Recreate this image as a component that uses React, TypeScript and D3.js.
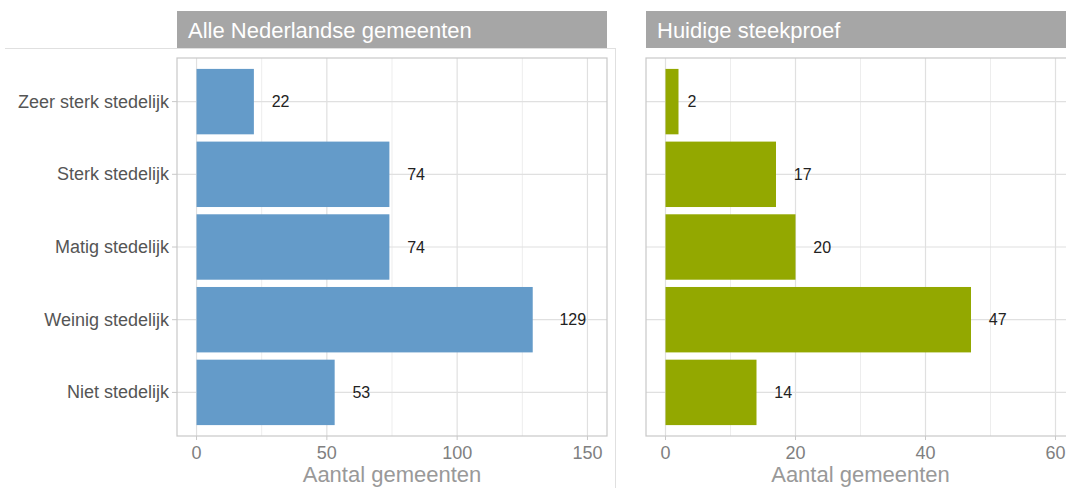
import React from "react";
import * as d3 from "d3";

const categories = ["Zeer sterk stedelijk", "Sterk stedelijk", "Matig stedelijk", "Weinig stedelijk", "Niet stedelijk"];
const allValues = [22, 74, 74, 129, 53];
const sampleValues = [2, 17, 20, 47, 14];
const leftTicks = [0, 50, 100, 150];
const leftMinor = [25, 75, 125];
const rightTicks = [0, 20, 40, 60];
const rightMinor = [10, 30, 50];
const panelTitles = ["Alle Nederlandse gemeenten", "Huidige steekproef"];
const axisTitle = "Aantal gemeenten";

const FONT = "'Liberation Sans', Arial, sans-serif";
const W = 1066, H = 488;
const PT = 58, PB = 436;
const LABEL_SIZE = 16;

type PanelProps = {
  title: string;
  values: number[];
  ticks: number[];
  minor: number[];
  domain: [number, number];
  x0: number;
  x1: number;
  color: string;
  showY: boolean;
};

function Panel({ title, values, ticks, minor, domain, x0, x1, color, showY }: PanelProps) {
  const x = d3.scaleLinear().domain(domain).range([x0, x1]);
  const y = d3.scaleBand<string>().domain(categories).range([PT, PB]).paddingInner(0.1).paddingOuter(0.15);
  const bw = y.bandwidth();
  const right = Math.min(x1, W);
  return (
    <g>
      <rect x={x0} y={11} width={right - x0} height={37} fill="#A6A6A6" />
      <text x={x0 + 11} y={38} fill="#ffffff" fontSize={22} fontFamily={FONT}>{title}</text>
      <rect x={x0} y={PT} width={x1 - x0} height={PB - PT} fill="#ffffff" />
      {minor.map((m) => (
        <line key={"mi" + m} x1={x(m)} x2={x(m)} y1={PT} y2={PB} stroke="#EDEDED" strokeWidth={1} />
      ))}
      {ticks.map((t) => (
        <line key={"ma" + t} x1={x(t)} x2={x(t)} y1={PT} y2={PB} stroke="#E0E0E0" strokeWidth={1.2} />
      ))}
      {categories.map((c) => (
        <line key={"hg" + c} x1={x0} x2={x1} y1={y(c)! + bw / 2} y2={y(c)! + bw / 2} stroke="#E0E0E0" strokeWidth={1.2} />
      ))}
      {categories.map((c, i) => (
        <rect key={"b" + c} x={x(0)} y={y(c)!} width={x(values[i]) - x(0)} height={bw} fill={color} />
      ))}
      {categories.map((c, i) => {
        const label = String(values[i]);
        const textW = label.length * 0.556 * LABEL_SIZE;
        return (
          <text key={"v" + c} x={x(values[i]) + textW} y={y(c)! + bw / 2} textAnchor="start" dominantBaseline="central"
            fontSize={LABEL_SIZE} fill="#222222" fontFamily={FONT}>{label}</text>
        );
      })}
      <rect x={x0} y={PT} width={x1 - x0} height={PB - PT} fill="none" stroke="#C8C8C8" strokeWidth={1.2} />
      {ticks.map((t) => (
        <g key={"xt" + t}>
          <line x1={x(t)} x2={x(t)} y1={PB} y2={PB + 4} stroke="#C8C8C8" />
          <text x={x(t)} y={459} textAnchor="middle" fontSize={18} fill="#808080" fontFamily={FONT}>{t}</text>
        </g>
      ))}
      <text x={(x0 + x1) / 2} y={482} textAnchor="middle" fontSize={22} fill="#999999" fontFamily={FONT}>{axisTitle}</text>
      {showY && categories.map((c) => (
        <g key={"yt" + c}>
          <line x1={x0 - 5} x2={x0} y1={y(c)! + bw / 2} y2={y(c)! + bw / 2} stroke="#C8C8C8" />
          <text x={x0 - 8} y={y(c)! + bw / 2} textAnchor="end" dominantBaseline="central" fontSize={18} fill="#555555" fontFamily={FONT}>{c}</text>
        </g>
      ))}
    </g>
  );
}

export default function App() {
  return (
    <svg width={W} height={H} style={{ position: "absolute", left: 0, top: 0, display: "block" }}>
      <rect x={0} y={0} width={W} height={H} fill="#ffffff" />
      <line x1={5} x2={615} y1={48.5} y2={48.5} stroke="#E0E0E0" />
      <line x1={615.5} x2={615.5} y1={48} y2={H} stroke="#E0E0E0" />
      <Panel title={panelTitles[0]} values={allValues} ticks={leftTicks} minor={leftMinor} domain={[-7.5, 157.5]}
        x0={177} x1={607} color="#649BC9" showY={true} />
      <Panel title={panelTitles[1]} values={sampleValues} ticks={rightTicks} minor={rightMinor} domain={[-3, 63]}
        x0={646} x1={1075} color="#93A800" showY={false} />
    </svg>
  );
}
